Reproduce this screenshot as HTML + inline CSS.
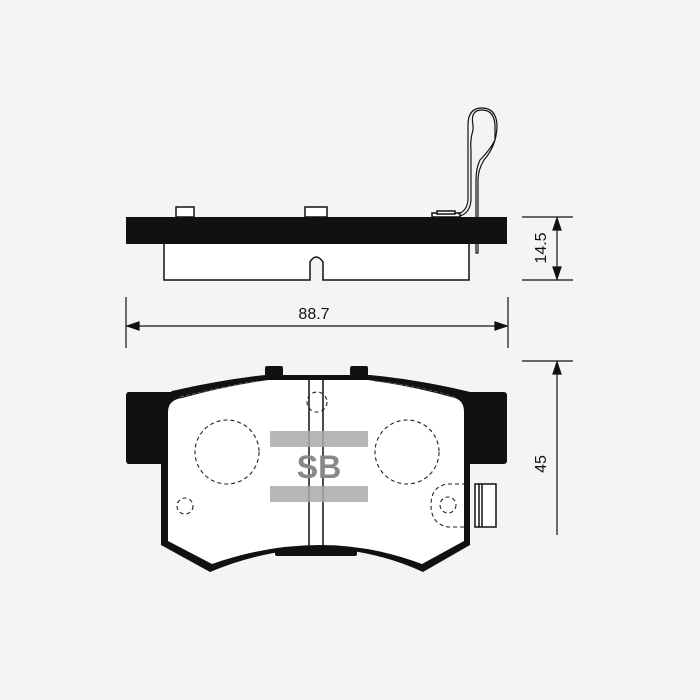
<!DOCTYPE html>
<html><head><style>html,body{margin:0;padding:0;background:#f4f4f4}svg{display:block}</style></head>
<body>
<svg width="700" height="700" viewBox="0 0 700 700" xmlns="http://www.w3.org/2000/svg" font-family="Liberation Sans, sans-serif">
<rect width="700" height="700" fill="#f4f4f4"/>
<!-- top view -->
<g stroke="#111" fill="none" stroke-width="1.5">
<rect x="176" y="207" width="18" height="10" fill="#fff"/>
<rect x="305" y="207" width="22" height="10" fill="#fff"/>
<rect x="432" y="213" width="28" height="4" fill="#fff"/>
<rect x="437" y="211" width="18" height="3" fill="#fff"/>
<path d="M164 244 L164 280 L310 280 L310 262 Q316 252 323 262 L323 280 L469 280 L469 244" fill="#fff"/>
<path d="M460 216 Q470 213 471 200 L471 150 Q470 140 473 130 L473 125 Q470 110 482 110 Q494 110 495 125 L495 140 Q490 150 480 160 Q476 168 476 180 L476 253 L478 253 L478 180 Q478 170 484 160 Q497 145 497 125 Q496 108 482 108 Q468 108 468 125 L468 135 L468 200 Q467 211 458 214" stroke-width="1.2"/>
</g>
<rect x="126" y="217" width="381" height="27" fill="#111"/>
<!-- 14.5 dim -->
<g stroke="#111" stroke-width="1.2" fill="#111">
<line x1="522" y1="217" x2="573" y2="217"/><line x1="522" y1="280" x2="573" y2="280"/>
<line x1="557" y1="225" x2="557" y2="272"/>
<path d="M557 218 L553 230 L561 230 Z"/><path d="M557 279 L553 267 L561 267 Z"/>
<line x1="126" y1="297" x2="126" y2="348"/><line x1="508" y1="297" x2="508" y2="348"/>
<line x1="134" y1="326" x2="500" y2="326"/>
<path d="M127 326 L139 322 L139 330 Z"/><path d="M507 326 L495 322 L495 330 Z"/>
<line x1="522" y1="361" x2="573" y2="361"/>
<line x1="557" y1="370" x2="557" y2="535"/>
<path d="M557 362 L553 374 L561 374 Z"/>
</g>
<text x="314" y="319" font-size="16" text-anchor="middle" fill="#111">88.7</text>
<text transform="translate(546,248) rotate(-90)" font-size="16" text-anchor="middle" fill="#111">14.5</text>
<text transform="translate(546,464) rotate(-90)" font-size="16" text-anchor="middle" fill="#111">45</text>
<!-- front view -->
<rect x="126" y="392" width="48" height="72" rx="3" fill="#111"/>
<rect x="462" y="392" width="45" height="72" rx="3" fill="#111"/>
<rect x="265" y="366" width="18" height="12" rx="2" fill="#111"/>
<rect x="350" y="366" width="18" height="12" rx="2" fill="#111"/>
<path d="M172 391 Q220 380 265 375 L370 375 Q420 380 466 391 L470 392 L470 545 L423 572 Q375 550 320 548 Q262 550 210 572 L161 545 L161 400 Z" fill="#111"/>
<path d="M182 398 Q225 386 268 380 L368 380 Q412 386 455 398 Q464 401 464 412 L464 541 L422 564 Q372 545 320 545 Q266 545 212 564 L168 541 L168 412 Q168 400 182 398 Z" fill="#fff"/>
<rect x="275" y="548" width="82" height="8" rx="2" fill="#111"/>
<path d="M180 397 Q225 386 258 381" stroke="#555" stroke-width="1" fill="none" stroke-dasharray="4,2"/>
<path d="M375 381 Q420 386 455 397" stroke="#555" stroke-width="1" fill="none" stroke-dasharray="4,2"/>
<g stroke="#111" stroke-width="1.5" fill="none">
<line x1="309" y1="376" x2="309" y2="548"/><line x1="323" y1="376" x2="323" y2="548"/>
<rect x="475" y="484" width="21" height="43" fill="#fff"/>
<line x1="479" y1="484" x2="479" y2="527"/><line x1="482" y1="484" x2="482" y2="527"/>
</g>
<g stroke="#222" stroke-width="1.1" fill="none" stroke-dasharray="4,3">
<circle cx="227" cy="452" r="32"/><circle cx="407" cy="452" r="32"/>
<circle cx="317" cy="402" r="10"/><circle cx="185" cy="506" r="8"/><circle cx="448" cy="505" r="8"/>
<path d="M466 484 L448 484 Q431 486 431 505 Q431 524 448 527 L466 527"/>
</g>
<rect x="270" y="431" width="98" height="16" fill="#aaa" opacity="0.85"/>
<rect x="270" y="486" width="98" height="16" fill="#aaa" opacity="0.85"/>
<text x="319" y="478" font-size="32" font-weight="bold" text-anchor="middle" fill="#888">SB</text>
</svg>
</body></html>
